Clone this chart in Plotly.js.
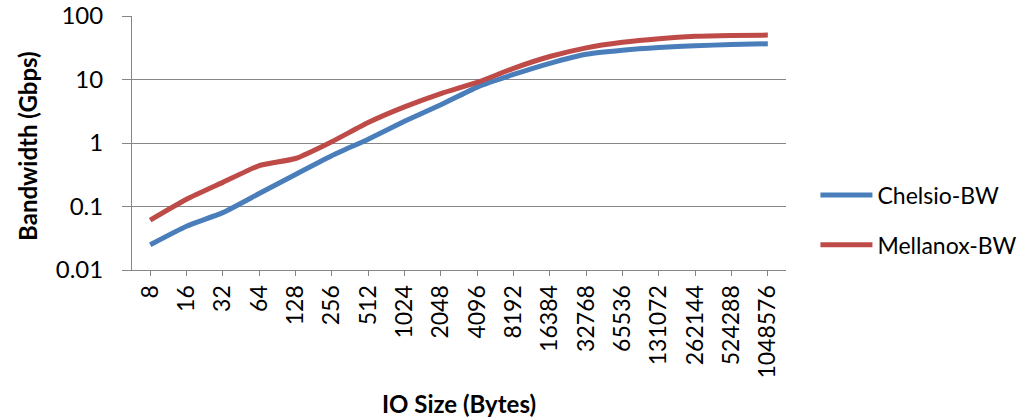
<!DOCTYPE html>
<html>
<head>
<meta charset="utf-8">
<script src="https://cdn.plot.ly/plotly-3.0.1.min.js"></script>
<style>html,body{margin:0;padding:0;background:#fff;}#chart{width:1034px;height:420px;}</style>
</head>
<body>
<div id="chart"></div>
<script>
var ioSizes = ['8','16','32','64','128','256','512','1024','2048','4096','8192','16384','32768','65536','131072','262144','524288','1048576'];
var chelsioBW = [0.025, 0.049, 0.08, 0.16, 0.32, 0.63, 1.15, 2.2, 4.0, 7.6, 12, 18, 25, 29, 32, 34, 35.5, 36.5];
var mellanoxBW = [0.061, 0.13, 0.24, 0.44, 0.57, 1.05, 2.1, 3.7, 6.0, 9.0, 15, 23, 31.5, 38.5, 44, 48, 49.5, 50];
var yTickVals = [0.01, 0.1, 1, 10, 100];
var yTickText = ['0.01', '0.1', '1', '10', '100'];

var FONT = 'Lato, "Open Sans", sans-serif';
var traces = [
  {x: ioSizes, y: chelsioBW, name: 'Chelsio-BW', type: 'scatter', mode: 'lines', legendgroup: 'a',
   line: {color: '#4A7EBB', width: 5, shape: 'spline', smoothing: 0.5}},
  {x: ioSizes, y: mellanoxBW, name: 'Mellanox-BW', type: 'scatter', mode: 'lines', legendgroup: 'b',
   line: {color: '#BE4B48', width: 5, shape: 'spline', smoothing: 0.5}}
];
var layout = {
  width: 1034, height: 420,
  margin: {l: 132, r: 245, t: 16, b: 150},
  paper_bgcolor: '#fff', plot_bgcolor: '#fff',
  font: {family: FONT, size: 23, color: '#000'},
  showlegend: true,
  legend: {x: 1.045, y: 0.197, xanchor: 'left', yanchor: 'middle', font: {family: FONT, size: 23, color: '#000'},
           itemwidth: 52, tracegroupgap: 17, bgcolor: 'rgba(0,0,0,0)'},
  xaxis: {type: 'category', range: [-0.5, 17.5], tickangle: -90, ticks: 'outside', ticklen: 5, tickcolor: '#868686',
          showline: true, linecolor: '#868686', linewidth: 1, showgrid: false, zeroline: false,
          tickfont: {family: FONT, size: 23, color: '#000'},
          title: {text: '<b>IO Size (Bytes)</b>', font: {family: FONT, size: 24, color: '#000'}, standoff: 18}},
  yaxis: {type: 'log', range: [-2, 2], tickvals: yTickVals, ticktext: yTickText, ticks: 'outside', ticklen: 9,
          tickcolor: '#868686', showline: true, linecolor: '#868686', linewidth: 1, showgrid: true,
          gridcolor: '#868686', gridwidth: 1, zeroline: false, ticklabelstandoff: 14,
          tickfont: {family: FONT, size: 24, color: '#000'}},
  annotations: [
    {text: '<b>Bandwidth (Gbps)</b>', xref: 'paper', yref: 'paper', x: -0.160, y: 0.49, xanchor: 'center', yanchor: 'middle',
     textangle: -90, showarrow: false, font: {family: FONT, size: 24, color: '#000'}}
  ]
};
Plotly.newPlot('chart', traces, layout, {displayModeBar: false, staticPlot: true});
</script>
</body>
</html>
